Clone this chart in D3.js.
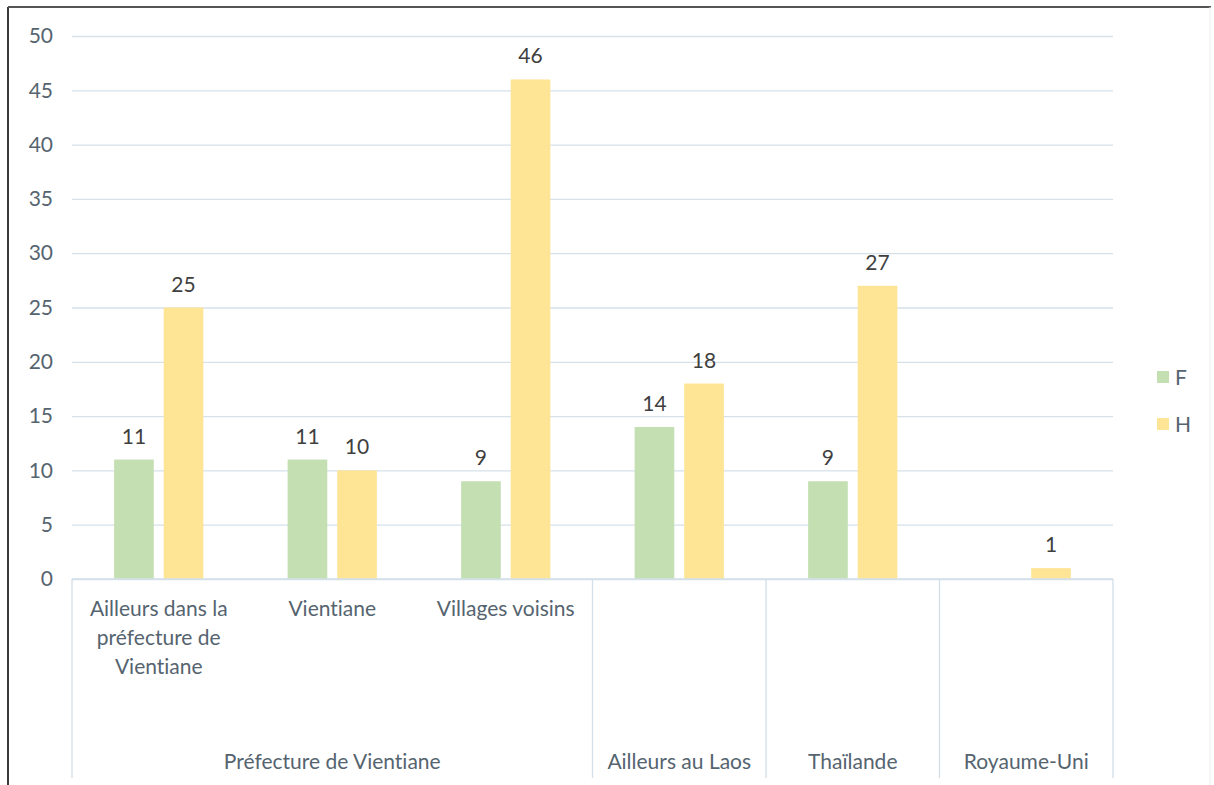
<!DOCTYPE html>
<html>
<head>
<meta charset="utf-8">
<script src="https://cdn.jsdelivr.net/npm/d3@7"></script>
<style>
  body { margin: 0; background: #fff; }
  text { font-family: Lato, "Open Sans", sans-serif; font-variant-ligatures: none; font-feature-settings: "liga" 0, "dlig" 0; }
</style>
</head>
<body>
<div class="chart"></div>
<script>
var svgWidth = 1214
var svgHeight = 785

// data
var subLabels = [
    ["Ailleurs dans la", "préfecture de", "Vientiane"],
    ["Vientiane"],
    ["Villages voisins"],
    [],
    [],
    []
];
var groupNames = ["Préfecture de Vientiane", "Ailleurs au Laos", "Thaïlande", "Royaume-Uni"];
var groupSizes = [3, 1, 1, 1];
var seriesNames = ["F", "H"];
var valuesF = [11, 11, 9, 14, 9, null];
var valuesH = [25, 10, 46, 18, 27, 1];
var yTicks = [0, 5, 10, 15, 20, 25, 30, 35, 40, 45, 50];
var colors = { F: "#c4dfb1", H: "#fee596" };

var margin = { top: 36, right: 101, bottom: 206, left: 72 };
var width = svgWidth - margin.left - margin.right;
var height = svgHeight - margin.top - margin.bottom;
var fontSize = "21px";
var labelColor = "#55646f";

var svg = d3.select(".chart")
    .append("svg")
    .attr("width", svgWidth)
    .attr("height", svgHeight);

// outer frame
svg.append("line").attr("x1", 8).attr("x2", 8).attr("y1", 7).attr("y2", 785)
    .attr("stroke", "#3a3a3a").attr("stroke-width", 2);
svg.append("line").attr("x1", 8).attr("x2", 1211).attr("y1", 7).attr("y2", 7)
    .attr("stroke", "#555").attr("stroke-width", 2);
svg.append("line").attr("x1", 1210).attr("x2", 1210).attr("y1", 7).attr("y2", 785)
    .attr("stroke", "#eeeeee").attr("stroke-width", 1);

var chartGroup = svg.append("g")
    .attr("transform", `translate(${margin.left}, ${margin.top})`);

var idx = d3.range(subLabels.length);

var x0 = d3.scaleBand()
    .domain(idx)
    .range([0, width])
    .padding(0);

var x1 = d3.scaleBand()
    .domain(seriesNames)
    .range([0, x0.bandwidth()])
    .paddingInner(0.2)
    .paddingOuter(0.85);

var y = d3.scaleLinear()
    .domain([0, 50])
    .range([height, 0]);

// gridlines + y labels
var leftAxis = d3.axisLeft(y)
    .tickValues(yTicks)
    .tickSize(-width)
    .tickPadding(19);

var yAxis = chartGroup.append("g").call(leftAxis);
yAxis.select(".domain").remove();
yAxis.selectAll("line").attr("stroke", "#d6e1ea").attr("stroke-width", 1.3);
yAxis.selectAll("text")
    .attr("fill", labelColor)
    .style("font-size", fontSize);

// bars
var rows = idx.map(function(i) {
    return { i: i, F: valuesF[i], H: valuesH[i] };
});

var barGroups = chartGroup.selectAll(".cat")
    .data(rows)
    .enter()
    .append("g")
    .attr("transform", d => `translate(${x0(d.i)}, 0)`);

var bars = barGroups.selectAll("rect")
    .data(d => seriesNames.map(k => ({ key: k, value: d[k] })).filter(v => v.value != null))
    .enter();

bars.append("rect")
    .attr("x", d => x1(d.key))
    .attr("y", d => y(d.value))
    .attr("width", x1.bandwidth())
    .attr("height", d => height - y(d.value))
    .attr("fill", d => colors[d.key]);

bars.append("text")
    .attr("x", d => x1(d.key) + x1.bandwidth() / 2)
    .attr("y", d => y(d.value) - 16)
    .attr("text-anchor", "middle")
    .attr("fill", "#3f3f3f")
    .style("font-size", fontSize)
    .text(d => d.value);

// multi-level category axis
var axisColor = "#d3dfe9";
chartGroup.append("line")
    .attr("x1", 0).attr("x2", width)
    .attr("y1", height).attr("y2", height)
    .attr("stroke", axisColor).attr("stroke-width", 1.3);

var start = 0;
var groupBounds = groupSizes.map(function(n) {
    var b = [start, start + n];
    start += n;
    return b;
});

var seps = [0].concat(groupBounds.map(b => b[1]));
chartGroup.selectAll(".sep")
    .data(seps)
    .enter()
    .append("line")
    .attr("x1", d => d === 0 ? 0 : x0(d - 1) + x0.bandwidth())
    .attr("x2", d => d === 0 ? 0 : x0(d - 1) + x0.bandwidth())
    .attr("y1", height)
    .attr("y2", height + 199)
    .attr("stroke", axisColor)
    .attr("stroke-width", 1.3);

var subText = chartGroup.selectAll(".sub")
    .data(idx)
    .enter()
    .append("text")
    .attr("x", d => x0(d) + x0.bandwidth() / 2)
    .attr("y", height + 37)
    .attr("text-anchor", "middle")
    .attr("fill", labelColor)
    .style("font-size", fontSize);

subText.selectAll("tspan")
    .data(d => subLabels[d])
    .enter()
    .append("tspan")
    .attr("x", function() { return d3.select(this.parentNode).attr("x"); })
    .attr("dy", (d, j) => j === 0 ? 0 : 29)
    .text(d => d);

chartGroup.selectAll(".grp")
    .data(groupNames)
    .enter()
    .append("text")
    .attr("x", (d, j) => (x0(groupBounds[j][0]) + x0(groupBounds[j][1] - 1) + x0.bandwidth()) / 2)
    .attr("y", height + 190)
    .attr("text-anchor", "middle")
    .attr("fill", labelColor)
    .style("font-size", fontSize)
    .text(d => d);

// legend
var legend = svg.append("g")
    .attr("transform", "translate(1157, 371)");

var legendItems = legend.selectAll("g")
    .data(seriesNames)
    .enter()
    .append("g")
    .attr("transform", (d, j) => `translate(0, ${j * 47})`);

legendItems.append("rect")
    .attr("width", 12)
    .attr("height", 12)
    .attr("fill", d => colors[d]);

legendItems.append("text")
    .attr("x", 18)
    .attr("y", 14)
    .attr("fill", labelColor)
    .style("font-size", fontSize)
    .text(d => d);
</script>
</body>
</html>
